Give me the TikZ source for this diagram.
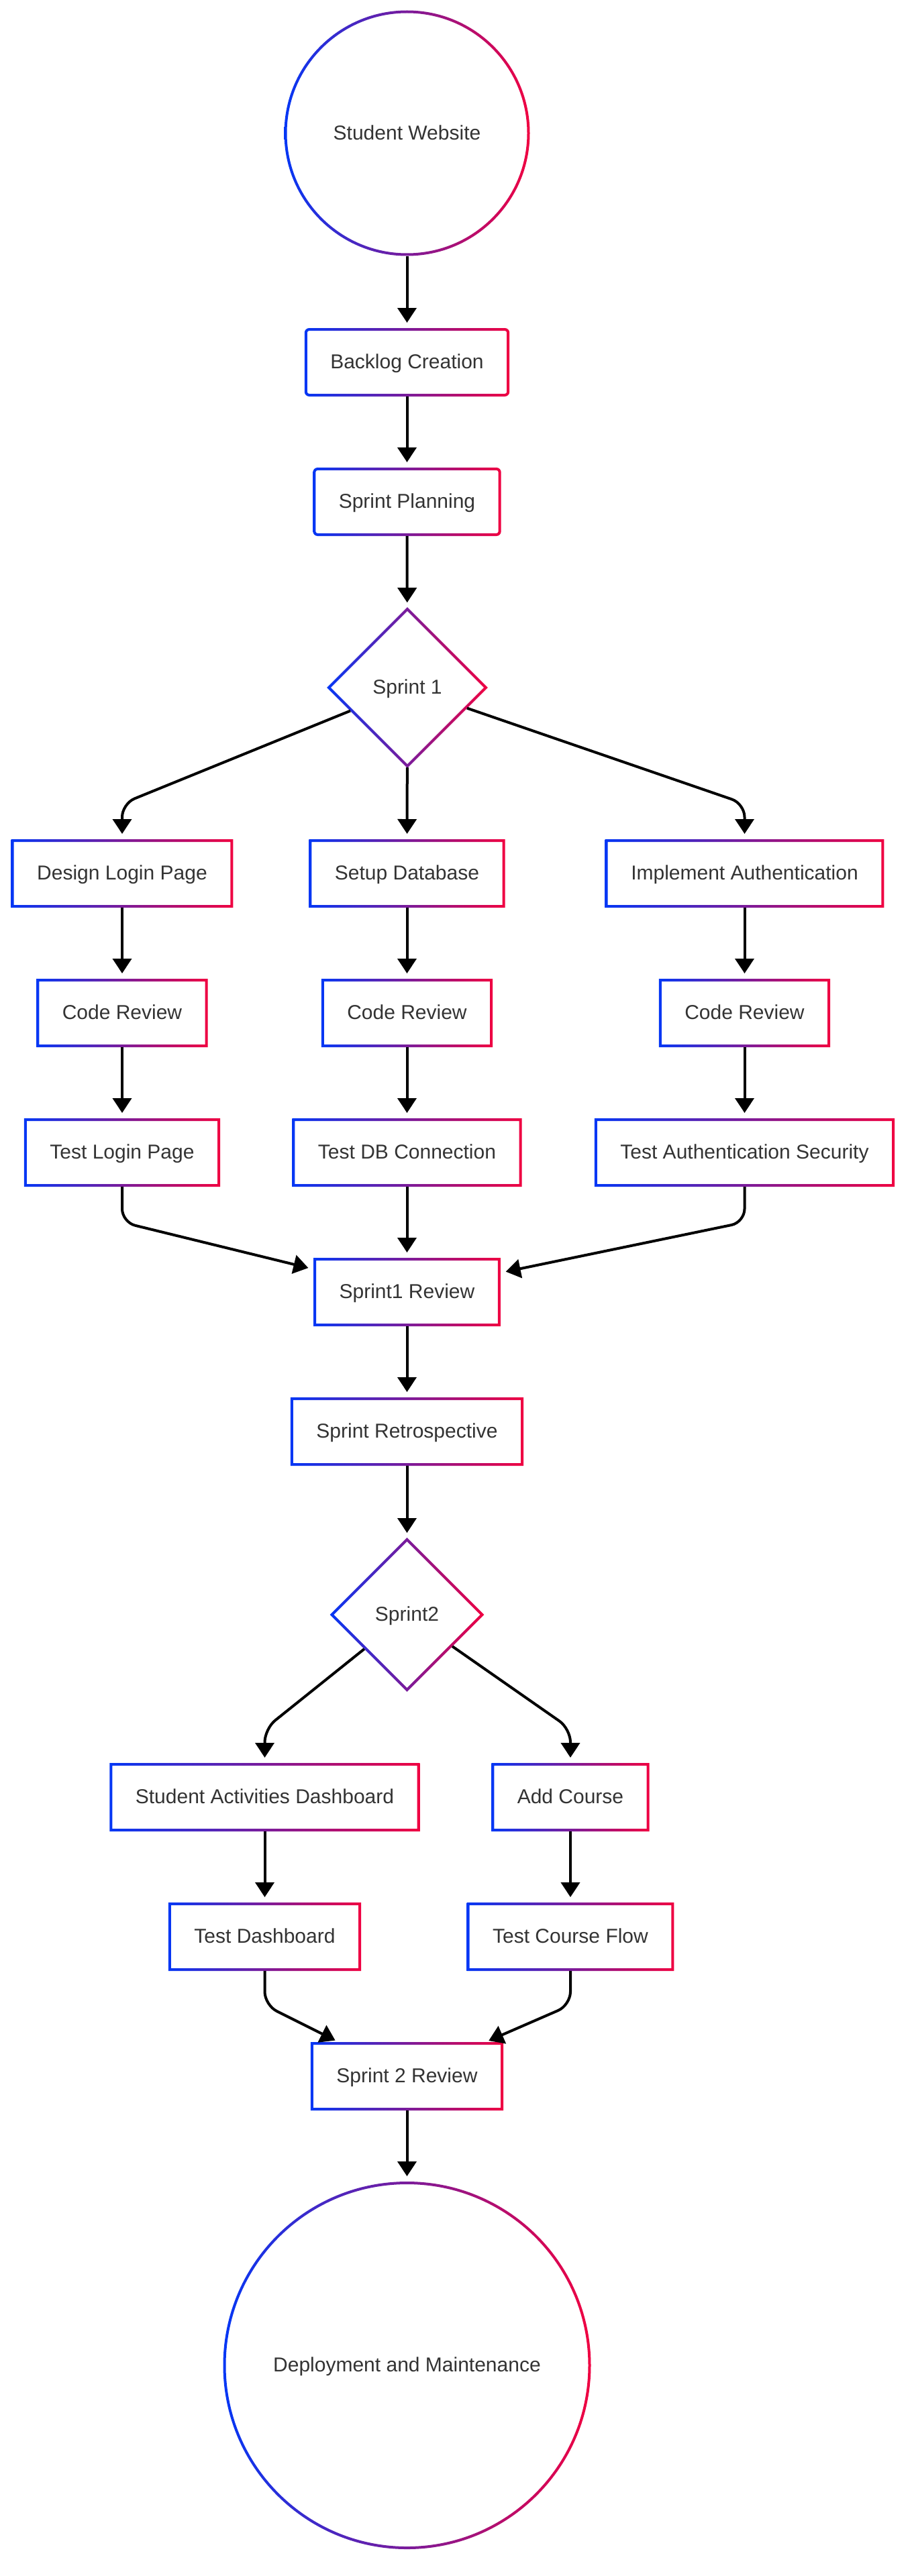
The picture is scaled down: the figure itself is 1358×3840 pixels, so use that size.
\documentclass[tikz,border=0pt]{standalone}
\usepackage{fontspec}
\setmainfont{Liberation Sans}
\usetikzlibrary{arrows.meta,shapes.geometric}

\definecolor{gradL}{RGB}{5,55,245}
\definecolor{gradR}{RGB}{240,0,65}
\definecolor{txt}{HTML}{333333}

\pgfdeclarelayer{shadowlayer}
\pgfsetlayers{shadowlayer,main}

\tikzset{
  base/.style={fill=white, text=txt, font=\fontsize{30}{36}\selectfont,
    inner sep=0pt, outer sep=0pt, text height=25.5pt, text depth=6pt},
  box/.style={base, rectangle, minimum height=98pt, inner xsep=36.5pt},
  rbox/.style={box, rounded corners=5pt},
  bubble/.style={base, circle},
  decision/.style={base, diamond, aspect=1},
  flow/.style={line width=4pt, -{Triangle[length=22pt,width=28pt]},
    shorten >=10pt, shorten <=2pt, rounded corners=20pt},
  gradstroke/.style={left color=gradL, right color=gradR, even odd rule},
  haze/.style={black, opacity=#1},
}

% gradient outlines, 4pt wide, centred on the node border
\newcommand\sqring[1]{%
  \shade[gradstroke]
    ([xshift=-2pt,yshift=2pt]#1.north west) rectangle ([xshift=2pt,yshift=-2pt]#1.south east)
    ([xshift=2pt,yshift=-2pt]#1.north west) rectangle ([xshift=-2pt,yshift=2pt]#1.south east);}
\newcommand\rdring[1]{%
  \shade[gradstroke]
    [rounded corners=7pt]
    ([xshift=-2pt,yshift=2pt]#1.north west) rectangle ([xshift=2pt,yshift=-2pt]#1.south east)
    [rounded corners=3pt]
    ([xshift=2pt,yshift=-2pt]#1.north west) rectangle ([xshift=-2pt,yshift=2pt]#1.south east);}
\newcommand\circring[2]{%
  \shade[gradstroke] (#1.center) circle[radius=#2+2pt] (#1.center) circle[radius=#2-2pt];}
\newcommand\diaring[1]{%
  \shade[gradstroke]
    ([yshift=2.83pt]#1.north) -- ([xshift=2.83pt]#1.east) -- ([yshift=-2.83pt]#1.south) -- ([xshift=-2.83pt]#1.west) -- cycle
    ([yshift=-2.83pt]#1.north) -- ([xshift=-2.83pt]#1.east) -- ([yshift=2.83pt]#1.south) -- ([xshift=2.83pt]#1.west) -- cycle;}

% soft drop shadows behind the nodes
\newcommand\boxshadow[1]{%
  \begin{pgfonlayer}{shadowlayer}
    \foreach \w/\o in {14/0.025, 8/0.03, 3/0.04}
      \draw[haze=\o, line width=\w pt]
        ([xshift=1pt,yshift=-3pt]#1.north west) rectangle ([xshift=1pt,yshift=-3pt]#1.south east);
  \end{pgfonlayer}}
\newcommand\circshadow[2]{%
  \begin{pgfonlayer}{shadowlayer}
    \foreach \w/\o in {14/0.025, 8/0.03, 3/0.04}
      \draw[haze=\o, line width=\w pt] ([xshift=1pt,yshift=-3pt]#1.center) circle[radius=#2];
  \end{pgfonlayer}}
\newcommand\diashadow[1]{%
  \begin{pgfonlayer}{shadowlayer}
    \foreach \w/\o in {14/0.025, 8/0.03, 3/0.04}
      \draw[haze=\o, line width=\w pt]
        ([xshift=1pt,yshift=-3pt]#1.north) -- ([xshift=1pt,yshift=-3pt]#1.east) --
        ([xshift=1pt,yshift=-3pt]#1.south) -- ([xshift=1pt,yshift=-3pt]#1.west) -- cycle;
  \end{pgfonlayer}}

\begin{document}
\begin{tikzpicture}[x=1pt, y=-1pt]
  \fill[white] (0,0) rectangle (1358,3840);
  \path[use as bounding box] (0,0) rectangle (1358,3840);

  % nodes
  \node[bubble, minimum size=362pt] (sw) at (606.5,198.5) {Student Website};
  \node[rbox] (bc)  at (606.5,540)  {Backlog Creation};
  \node[rbox] (spl) at (606.5,748)  {Sprint Planning};
  \node[decision, minimum width=234pt, minimum height=234pt] (s1) at (607,1025) {Sprint 1};

  \node[box] (dlp) at (182,1302)    {Design Login Page};
  \node[box] (sd)  at (606.5,1302)  {Setup Database};
  \node[box] (ia)  at (1109.5,1302) {Implement Authentication};

  \node[box] (cr1) at (182,1510)    {Code Review};
  \node[box] (cr2) at (606.5,1510)  {Code Review};
  \node[box] (cr3) at (1109.5,1510) {Code Review};

  \node[box] (tlp) at (182,1718)    {Test Login Page};
  \node[box] (tdb) at (606.5,1718)  {Test DB Connection};
  \node[box] (tas) at (1109.5,1718) {Test Authentication Security};

  \node[box] (s1r) at (606.5,1926)  {Sprint1 Review};
  \node[box] (sr)  at (606.5,2134)  {Sprint Retrospective};
  \node[decision, minimum width=224pt, minimum height=224pt] (s2) at (606.5,2407) {Sprint2};

  \node[box] (sad)   at (394.5,2679) {Student Activities Dashboard};
  \node[box] (ac)    at (850,2679)   {Add Course};
  \node[box] (tdash) at (394.5,2887) {Test Dashboard};
  \node[box] (tcf)   at (850,2887)   {Test Course Flow};

  \node[box] (s2r) at (606.5,3095) {Sprint 2 Review};
  \node[bubble, minimum size=544pt] (dm) at (606.5,3526) {Deployment and Maintenance};

  % outlines and shadows
  \circring{sw}{181pt}   \circshadow{sw}{181pt}
  \circring{dm}{272pt}   \circshadow{dm}{272pt}
  \rdring{bc}  \boxshadow{bc}
  \rdring{spl} \boxshadow{spl}
  \diaring{s1} \diashadow{s1}
  \diaring{s2} \diashadow{s2}
  \foreach \n in {dlp,sd,ia,cr1,cr2,cr3,tlp,tdb,tas,s1r,sr,sad,ac,tdash,tcf,s2r}
    {\sqring{\n} \boxshadow{\n}}

  % bend points of the routed connectors
  \coordinate (b1) at (182,1198);
  \coordinate (b2) at (1109.5,1198);
  \coordinate (b3) at (182,1822);
  \coordinate (b4) at (1109.5,1822);
  \coordinate (b5) at (394.5,2577);
  \coordinate (b6) at (850,2577);
  \coordinate (b7) at (394.5,2989);
  \coordinate (b8) at (850,2989);

  % connectors
  \draw[flow] (sw) -- (bc);
  \draw[flow] (bc) -- (spl);
  \draw[flow] (spl) -- (s1);

  \draw[flow] (s1) -- (b1) -- (dlp);
  \draw[flow] (s1) -- (sd);
  \draw[flow] (s1) -- (b2) -- (ia);

  \draw[flow] (dlp) -- (cr1);
  \draw[flow] (sd) -- (cr2);
  \draw[flow] (ia) -- (cr3);
  \draw[flow] (cr1) -- (tlp);
  \draw[flow] (cr2) -- (tdb);
  \draw[flow] (cr3) -- (tas);

  \draw[flow] (tlp) -- (b3) -- (s1r);
  \draw[flow] (tdb) -- (s1r);
  \draw[flow] (tas) -- (b4) -- (s1r);

  \draw[flow] (s1r) -- (sr);
  \draw[flow] (sr) -- (s2);

  \draw[flow] (s2) -- (b5) -- (sad);
  \draw[flow] (s2) -- (b6) -- (ac);
  \draw[flow] (sad) -- (tdash);
  \draw[flow] (ac) -- (tcf);
  \draw[flow] (tdash) -- (b7) -- (s2r);
  \draw[flow] (tcf) -- (b8) -- (s2r);

  \draw[flow] (s2r) -- (dm);
\end{tikzpicture}
\end{document}
